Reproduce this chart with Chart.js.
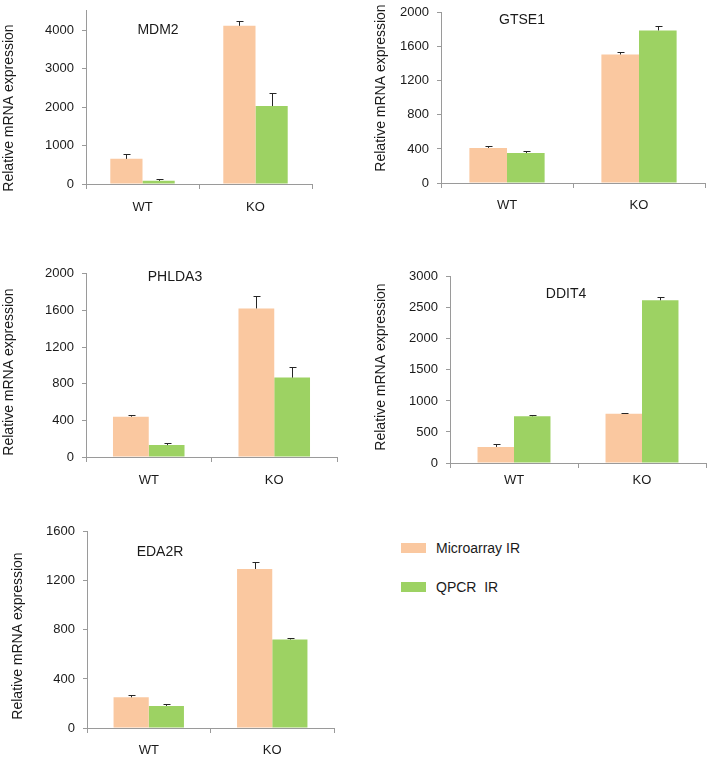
<!DOCTYPE html>
<html>
<head>
<meta charset="utf-8">
<script src="https://cdn.jsdelivr.net/npm/chart.js@4.4.1/dist/chart.umd.min.js"></script>
<style>
  html, body { margin: 0; padding: 0; background: #fff; overflow: hidden; }
  body { width: 709px; height: 757px; position: relative; font-family: "Liberation Sans", Arial, sans-serif; }
  canvas { position: absolute; }
  .legend-item { position: absolute; left: 401px; height: 14px; display: flex; align-items: center; font-size: 14px; color: #1a1a1a; }
  .swatch { width: 25px; height: 10px; margin-right: 10px; }
</style>
</head>
<body>

<div class="legend-item" style="top: 541px;"><span class="swatch" style="background:#FAC8A0;"></span>Microarray IR</div>
<div class="legend-item" style="top: 580px;"><span class="swatch" style="background:#9DD263;"></span>QPCR&nbsp;&nbsp;IR</div>

<script>
// data
const groups = ['WT', 'KO'];
const seriesNames = ['Microarray IR', 'QPCR  IR'];
const genes = ['MDM2', 'GTSE1', 'PHLDA3', 'DDIT4', 'EDA2R'];

const microarrayIR = [[653, 4110], [412, 1510], [440, 1622], [259, 795], [250, 1297]];
const microarrayErr = [[126, 125], [27, 26], [22, 134], [47, 15], [18, 53]];
const qpcrIR = [[83, 2025], [352, 1793], [130, 867], [753, 2622], [180, 722]];
const qpcrErr = [[50, 337], [19, 49], [18, 120], [26, 52], [12, 15]];

const yMax = [4500, 2000, 2000, 3000, 1600];
const yStep = [1000, 400, 400, 500, 400];

const COLORS = ['#FAC8A0', '#9DD263'];
const AXIS = '#9a9a9a';
const TEXT = '#1a1a1a';
const FONT = '"Liberation Sans", Arial, sans-serif';

// plot area of each panel in page pixels, plus label placement
const panels = [
  { left: 86,  right: 312, top: 5,   bottom: 184, xPad: 11, title: [158, 30],  yTitle: [9, 108] },
  { left: 441, right: 705, top: 7,   bottom: 183, xPad: 10, title: [522, 20],  yTitle: [381, 88] },
  { left: 86,  right: 337, top: 268, bottom: 457, xPad: 11, title: [175, 277], yTitle: [9, 372] },
  { left: 450, right: 706, top: 271, bottom: 463, xPad: 5,  title: [566, 294], yTitle: [381, 367] },
  { left: 87,  right: 334, top: 526, bottom: 728, xPad: 10, title: [160, 552], yTitle: [18, 636] }
];

const Y_WIDTH = 86;
const PAD_TOP = 10;
const X_HEIGHT = 30;

// error bars, only the upper half like the original
const errorBars = {
  id: 'errorBars',
  afterDatasetsDraw(chart) {
    const ctx = chart.ctx;
    const yScale = chart.scales.y;
    ctx.save();
    ctx.strokeStyle = '#262626';
    ctx.lineWidth = 1;
    chart.data.datasets.forEach((ds, d) => {
      const meta = chart.getDatasetMeta(d);
      meta.data.forEach((bar, i) => {
        const x = Math.round(bar.x) + 0.5;
        const yTop = Math.round(yScale.getPixelForValue(ds.data[i] + ds.errors[i])) + 0.5;
        ctx.beginPath();
        ctx.moveTo(x, bar.y);
        ctx.lineTo(x, yTop);
        ctx.moveTo(x - 3, yTop);
        ctx.lineTo(x + 4, yTop);
        ctx.stroke();
      });
    });
    ctx.restore();
  }
};

// gene name inside the plot and the rotated axis title
const panelText = {
  id: 'panelText',
  afterDraw(chart, args, opts) {
    const ctx = chart.ctx;
    ctx.save();
    ctx.fillStyle = TEXT;
    ctx.font = `14px ${FONT}`;
    ctx.textAlign = 'center';
    ctx.textBaseline = 'middle';
    ctx.fillText(opts.gene, opts.title[0] - opts.originX, opts.title[1] - opts.originY);
    ctx.translate(opts.yTitle[0] - opts.originX, opts.yTitle[1] - opts.originY);
    ctx.rotate(-Math.PI / 2);
    ctx.fillText('Relative mRNA expression', 0, 0);
    ctx.restore();
  }
};

function buildPanel(i) {
  const p = panels[i];
  const canvas = document.createElement('canvas');
  const originX = p.left - Y_WIDTH;
  const originY = p.top - PAD_TOP;
  const w = Y_WIDTH + (p.right - p.left) + 2;
  const h = PAD_TOP + (p.bottom - p.top) + X_HEIGHT;
  canvas.width = w;
  canvas.height = h;
  canvas.style.left = originX + 'px';
  canvas.style.top = originY + 'px';
  canvas.style.width = w + 'px';
  canvas.style.height = h + 'px';
  document.body.appendChild(canvas);

  const step = yStep[i];

  new Chart(canvas.getContext('2d'), {
    type: 'bar',
    data: {
      labels: groups,
      datasets: [
        { label: seriesNames[0], data: microarrayIR[i], errors: microarrayErr[i], backgroundColor: COLORS[0] },
        { label: seriesNames[1], data: qpcrIR[i], errors: qpcrErr[i], backgroundColor: COLORS[1] }
      ]
    },
    options: {
      responsive: false,
      animation: false,
      layout: { padding: { top: PAD_TOP, right: 2, left: 0, bottom: 0 } },
      datasets: { bar: { barPercentage: 1, categoryPercentage: 0.57, borderWidth: 0 } },
      plugins: {
        legend: { display: false },
        tooltip: { enabled: false },
        panelText: { gene: genes[i], title: p.title, yTitle: p.yTitle, originX: originX, originY: originY }
      },
      scales: {
        x: {
          afterFit: s => { s.height = X_HEIGHT; },
          border: { color: AXIS, width: 1 },
          grid: { offset: true, drawOnChartArea: false, drawTicks: true, tickLength: 5, color: AXIS },
          ticks: { color: TEXT, padding: p.xPad, font: { family: FONT, size: 13 } }
        },
        y: {
          min: 0,
          max: yMax[i],
          afterFit: s => { s.width = Y_WIDTH; },
          // ticks only at whole steps, the axis itself runs on to max
          afterBuildTicks: s => {
            const t = [];
            for (let v = 0; v <= yMax[i]; v += step) t.push({ value: v });
            s.ticks = t;
          },
          border: { color: AXIS, width: 1 },
          grid: { drawOnChartArea: false, drawTicks: true, tickLength: 4, color: AXIS },
          ticks: {
            padding: 8,
            color: TEXT,
            font: { family: FONT, size: 13 },
            callback: v => String(v)
          }
        }
      }
    },
    plugins: [errorBars, panelText]
  });
}

genes.forEach((g, i) => buildPanel(i));
</script>
</body>
</html>
